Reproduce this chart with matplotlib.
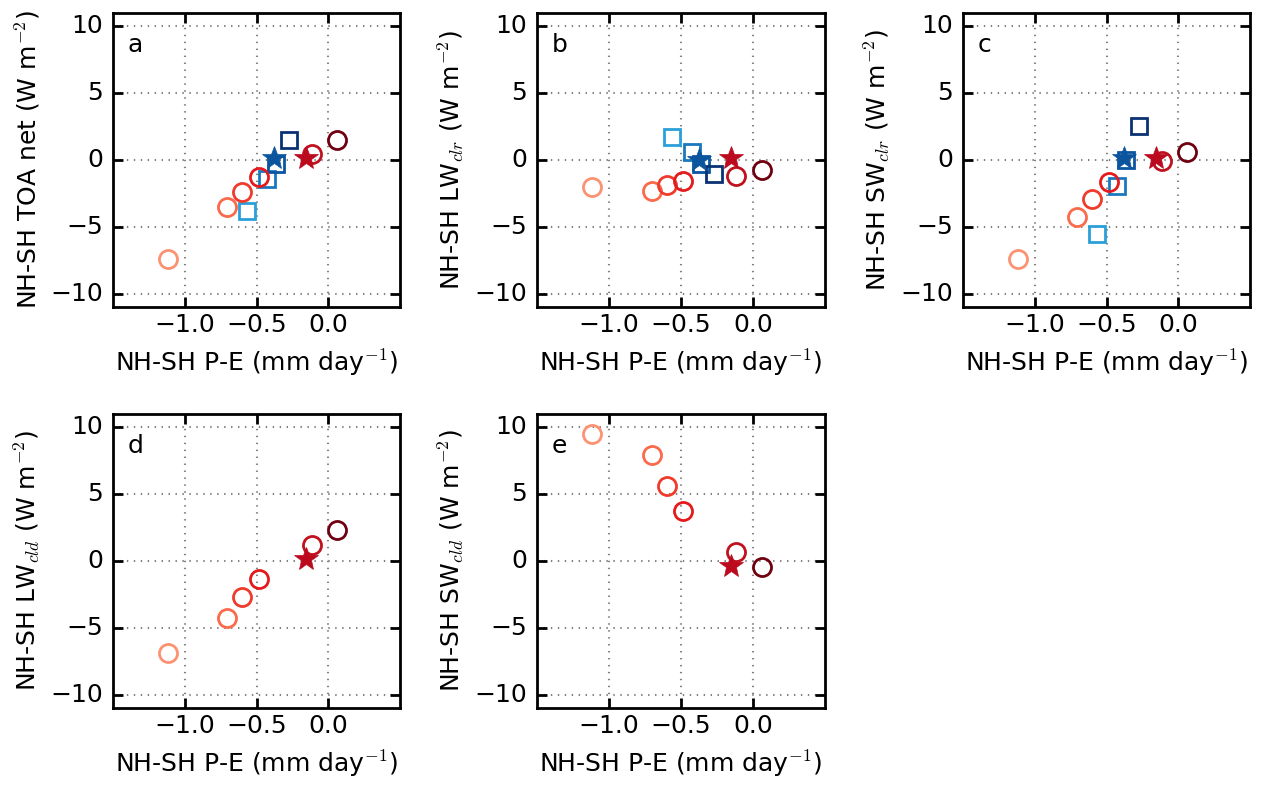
import matplotlib
matplotlib.use("Agg")
import matplotlib.pyplot as plt

plt.style.use("classic")
plt.rcParams["font.family"] = ["DejaVu Sans"]
plt.rcParams["mathtext.fontset"] = "cm"

# ---- data ----
circ_x = [-1.115, -0.703, -0.600, -0.486, -0.116, 0.062]
red_star_x = -0.155
sq_x = [-0.563, -0.425, -0.364, -0.274]
blue_star_x = -0.376

circ_colors = ["#fc9272", "#fb6a4a", "#f03b2c", "#e41a1c", "#c0121e", "#6f0010"]
red_star_color = "#bb0a1e"
sq_colors = ["#2b9fd8", "#1a78c0", "#0b56a0", "#0a3272"]
blue_star_color = "#0b559f"

panel_letters = ["a", "b", "c", "d", "e"]
ylabels = [
    "NH-SH TOA net (W m$^{-2}$)",
    "NH-SH LW$_{clr}$ (W m$^{-2}$)",
    "NH-SH SW$_{clr}$ (W m$^{-2}$)",
    "NH-SH LW$_{cld}$ (W m$^{-2}$)",
    "NH-SH SW$_{cld}$ (W m$^{-2}$)",
]
xlabel = "NH-SH P-E (mm day$^{-1}$)"

circ_y = [
    [-7.40, -3.55, -2.42, -1.27, 0.42, 1.48],
    [-2.05, -2.35, -1.88, -1.56, -1.19, -0.74],
    [-7.41, -4.27, -2.94, -1.63, -0.07, 0.62],
    [-6.91, -4.28, -2.73, -1.31, 1.17, 2.31],
    [9.48, 7.94, 5.60, 3.73, 0.70, -0.42],
]
red_star_y = [0.12, 0.17, 0.12, 0.13, -0.37]
sq_y = [
    [-3.85, -1.43, -0.32, 1.48],
    [1.70, 0.59, -0.27, -1.06],
    [-5.50, -1.95, -0.02, 2.57],
    None,
    None,
]
blue_star_y = [0.17, -0.02, 0.12, None, None]

xticks = [-1.0, -0.5, 0.0]
yticks = [-10, -5, 0, 5, 10]

# ---- figure ----
fig = plt.figure(figsize=(12.62, 7.86), dpi=100, facecolor="white")
W, H = 1262.0, 786.0
boxes = [
    (113, 13, 287, 294),
    (537, 13, 288, 294),
    (963, 13, 287, 294),
    (113, 414, 287, 294),
    (537, 414, 288, 294),
]
FS = 18

for i, (l, t, w, h) in enumerate(boxes):
    ax = fig.add_axes([l / W, 1 - (t + h) / H, w / W, h / H])
    ax.set_facecolor("white")
    for s in ax.spines.values():
        s.set_linewidth(2)
    ax.grid(True, color="0.5", linestyle=(0, (1, 4)), linewidth=1.5)
    ax.set_axisbelow(True)

    if sq_y[i] is not None:
        for x, y, c in zip(sq_x, sq_y[i], sq_colors):
            ax.plot(x, y, "s", ms=12, mfc="none", mec=c, mew=2)
        ax.plot(blue_star_x, blue_star_y[i], "*", ms=18, color=blue_star_color, mec=blue_star_color)
    for x, y, c in zip(circ_x, circ_y[i], circ_colors):
        ax.plot(x, y, "o", ms=13, mfc="none", mec=c, mew=2)
    ax.plot(red_star_x, red_star_y[i], "*", ms=18, color=red_star_color, mec=red_star_color)

    ax.set_xlim(-1.5, 0.5)
    ax.set_ylim(-11, 11)
    ax.set_xticks(xticks)
    ax.set_yticks(yticks)
    ax.tick_params(direction="in", length=7, width=2, labelsize=FS,
                   top=True, right=True)
    ax.tick_params(axis="y", pad=7)
    ax.tick_params(axis="x", pad=4)
    ax.set_xlabel(xlabel, fontsize=FS, labelpad=8)
    ax.set_ylabel(ylabels[i], fontsize=FS, labelpad=6)
    ax.text(0.05, 0.89, panel_letters[i], transform=ax.transAxes,
            fontsize=FS, ha="left", va="center")

fig.savefig("out.png", dpi=100, facecolor="white")
